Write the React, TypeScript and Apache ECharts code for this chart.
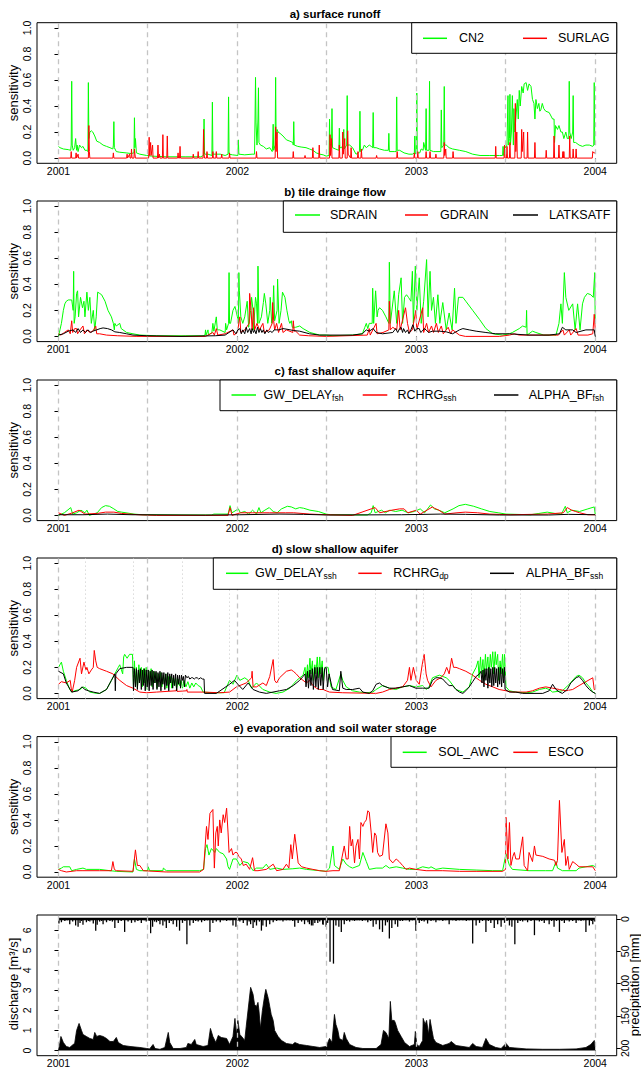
import React, { useEffect, useRef } from "react";
import * as echarts from "echarts";

const FONT = "'Liberation Sans', Arial, Helvetica, sans-serif";

// x axis: days since 2001-01-01
const yearTicks = [0, 365, 730, 1095];
const yearLabels = ["2001", "2002", "2003", "2004"];
const dashedDays = [0, 181, 365, 546, 730, 911, 1095];
const dottedDays = [55, 153, 252, 349, 448, 647, 745, 843, 942, 1040];
const sensTicks = [0, 0.2, 0.4, 0.6, 0.8, 1.0];
const dischargeTicks = [0, 1, 2, 3, 4, 5, 6];
const precipTicks = [0, 50, 100, 150, 200];

const panelTitles = [
  "a) surface runoff",
  "b) tile drainge flow",
  "c) fast shallow aquifer",
  "d) slow shallow aquifer",
  "e) evaporation and soil water storage",
];

// ---------- a) surface runoff ----------
const cn2 = [[0,0.09],[3,0.08],[10,0.07],[20,0.065],[25,0.06],[26,0.1],[27,0.59],[28,0.1],[30,0.06],[33,0.08],[35,0.15],[37,0.06],[38,0.1],[40,0.05],[43,0.1],[47,0.08],[50,0.09],[54,0.06],[58,0.06],[60,0.05],[61,0.58],[62,0.15],[64,0.2],[67,0.21],[70,0.2],[74,0.17],[78,0.13],[84,0.12],[91,0.1],[98,0.09],[105,0.08],[111,0.07],[112,0.1],[113,0.28],[114,0.08],[118,0.05],[125,0.045],[138,0.04],[148,0.035],[154,0.04],[155,0.31],[156,0.08],[157,0.15],[159,0.04],[166,0.03],[180,0.02],[190,0.015],[220,0.01],[260,0.01],[290,0.01],[296,0.02],[297,0.3],[298,0.03],[305,0.03],[313,0.02],[314,0.43],[315,0.03],[330,0.03],[340,0.02],[346,0.03],[347,0.47],[348,0.03],[355,0.025],[366,0.02],[367,0.14],[368,0.03],[380,0.025],[395,0.03],[400,0.03],[401,0.3],[402,0.62],[403,0.27],[405,0.1],[407,0.3],[408,0.54],[409,0.12],[412,0.1],[418,0.09],[424,0.07],[431,0.08],[436,0.05],[437,0.1],[438,0.26],[439,0.06],[442,0.1],[443,0.62],[444,0.15],[446,0.22],[448,0.2],[452,0.19],[458,0.17],[465,0.14],[472,0.13],[478,0.12],[479,0.1],[480,0.28],[481,0.1],[488,0.09],[495,0.085],[505,0.08],[512,0.07],[519,0.06],[526,0.04],[533,0.03],[540,0.025],[546,0.015],[552,0.02],[553,0.3],[554,0.1],[557,0.1],[558,0.38],[559,0.08],[565,0.07],[572,0.06],[573,0.23],[574,0.08],[578,0.08],[580,0.1],[582,0.22],[583,0.07],[588,0.1],[589,0.48],[590,0.1],[594,0.1],[600,0.08],[607,0.03],[612,0.04],[614,0.05],[615,0.36],[616,0.05],[620,0.06],[624,0.1],[628,0.08],[634,0.1],[638,0.09],[641,0.08],[642,0.35],[643,0.08],[648,0.08],[655,0.07],[665,0.06],[673,0.06],[674,0.19],[675,0.05],[685,0.05],[689,0.05],[690,0.47],[691,0.06],[696,0.06],[705,0.04],[715,0.03],[722,0.03],[726,0.04],[727,0.17],[728,0.03],[730,0.04],[731,0.5],[732,0.04],[737,0.04],[740,0.07],[744,0.06],[745,0.12],[749,0.06],[750,0.38],[751,0.06],[756,0.06],[757,0.59],[758,0.06],[765,0.05],[770,0.05],[780,0.05],[781,0.37],[782,0.08],[786,0.1],[787,0.55],[788,0.1],[791,0.1],[797,0.08],[804,0.07],[818,0.06],[831,0.05],[845,0.03],[860,0.02],[880,0.02],[900,0.02],[906,0.02],[907,0.09],[908,0.02],[910,0.1],[912,0.08],[915,0.1],[916,0.3],[917,0.48],[918,0.1],[920,0.15],[921,0.49],[922,0.1],[924,0.2],[926,0.48],[928,0.1],[929,0.38],[931,0.2],[933,0.3],[936,0.45],[938,0.3],[940,0.52],[942,0.4],[945,0.55],[948,0.5],[950,0.57],[954,0.58],[957,0.52],[960,0.57],[964,0.55],[967,0.45],[970,0.42],[972,0.3],[974,0.45],[977,0.38],[980,0.42],[982,0.36],[984,0.37],[987,0.42],[990,0.38],[994,0.36],[1001,0.35],[1008,0.3],[1011,0.3],[1012,0.12],[1014,0.25],[1018,0.22],[1021,0.25],[1025,0.2],[1028,0.2],[1031,0.15],[1035,0.2],[1038,0.15],[1041,0.15],[1042,0.59],[1043,0.2],[1046,0.15],[1049,0.2],[1050,0.48],[1051,0.12],[1055,0.12],[1062,0.1],[1069,0.09],[1076,0.1],[1083,0.1],[1090,0.09],[1092,0.1],[1093,0.58],[1094,0.1],[1095,0.1]];
const surlag = [[0,0],[25,0],[26,0.05],[27,0],[35,0],[36,0.04],[37,0],[40,0.03],[41,0],[61,0],[62,0.25],[63,0.05],[64,0],[111,0],[112,0.04],[113,0],[139,0],[140,0.03],[141,0],[145,0.03],[146,0],[148,0],[149,0.07],[150,0],[154,0],[155,0.07],[156,0.03],[157,0],[184,0],[185,0.16],[186,0.02],[188,0.12],[189,0.02],[192,0.1],[193,0],[202,0],[203,0.1],[204,0],[206,0.03],[207,0],[212,0],[213,0.18],[214,0],[221,0],[222,0.17],[223,0],[243,0],[244,0.04],[245,0],[247,0],[248,0.09],[249,0],[274,0],[275,0.03],[276,0],[284,0],[285,0.05],[286,0],[295,0],[296,0.22],[297,0.03],[298,0],[302,0],[303,0.05],[304,0],[314,0],[315,0.05],[316,0],[321,0],[322,0.05],[323,0],[332,0],[333,0.03],[334,0],[348,0],[349,0.04],[350,0],[403,0],[404,0.05],[405,0],[442,0],[443,0.24],[444,0.05],[446,0.2],[447,0],[478,0],[479,0.05],[480,0],[502,0],[503,0.02],[504,0],[518,0],[519,0.08],[520,0],[531,0],[532,0.1],[533,0],[553,0],[554,0.18],[555,0.02],[557,0.15],[558,0],[572,0],[573,0.1],[574,0],[579,0],[580,0.2],[581,0.03],[584,0.15],[585,0],[589,0],[590,0.21],[591,0.03],[596,0],[597,0.08],[598,0],[610,0],[611,0.05],[612,0],[617,0],[618,0.07],[619,0],[648,0],[649,0.02],[650,0],[690,0],[691,0.05],[692,0],[725,0],[726,0.04],[727,0],[732,0],[733,0.05],[734,0],[749,0],[750,0.05],[751,0],[757,0],[758,0.05],[759,0],[769,0],[770,0.03],[771,0],[786,0],[787,0.12],[788,0.02],[790,0.07],[791,0],[804,0],[805,0.05],[806,0],[891,0],[892,0.09],[893,0],[909,0],[910,0.1],[911,0],[914,0],[915,0.09],[916,0],[920,0],[921,0.12],[922,0],[931,0],[932,0.42],[933,0.05],[935,0.2],[936,0],[944,0],[945,0.22],[946,0.05],[949,0.2],[950,0],[956,0],[957,0.2],[958,0],[971,0],[972,0.12],[973,0],[994,0],[995,0.06],[996,0],[1010,0],[1011,0.17],[1012,0],[1020,0],[1021,0.1],[1022,0],[1028,0],[1029,0.05],[1030,0],[1031,0.05],[1032,0],[1042,0],[1043,0.17],[1044,0],[1049,0],[1050,0.07],[1051,0],[1055,0],[1056,0.07],[1057,0],[1089,0],[1090,0.05],[1092,0.04],[1095,0.04]];

// ---------- b) tile drainage flow ----------
const sdrain = [[0,0],[3,0.05],[6,0.1],[10,0.2],[13,0.25],[16,0.27],[20,0.28],[27,0.28],[30,0.2],[31,0.5],[32,0.1],[34,0.15],[37,0.33],[39,0.35],[41,0.15],[45,0.3],[49,0.22],[52,0.27],[54,0.15],[58,0.34],[61,0.2],[64,0.3],[67,0.1],[71,0.2],[74,0.05],[77,0.15],[80,0.34],[84,0.33],[88,0.32],[95,0.27],[101,0.2],[108,0.15],[112,0.1],[114,0.05],[115,0.1],[118,0.08],[125,0.1],[128,0.06],[139,0.03],[152,0.02],[166,0.01],[200,0.005],[260,0.005],[295,0.005],[299,0.01],[300,0.05],[301,0.01],[305,0.05],[306,0.01],[313,0.03],[315,0.1],[317,0.04],[322,0.15],[324,0.05],[329,0.05],[340,0.03],[341,0.1],[343,0.05],[347,0.1],[348,0.49],[349,0.1],[351,0.1],[356,0.2],[360,0.23],[362,0.2],[365,0.15],[367,0.1],[368,0.49],[369,0.35],[372,0.15],[376,0.1],[380,0.15],[385,0.27],[388,0.07],[392,0.2],[394,0.3],[397,0.2],[398,0.05],[402,0.3],[404,0.25],[406,0.1],[407,0.54],[409,0.1],[414,0.15],[418,0.26],[420,0.33],[423,0.25],[427,0.1],[431,0.2],[432,0.3],[435,0.1],[437,0.15],[439,0.39],[441,0.12],[446,0.2],[447,0.44],[450,0.1],[454,0.2],[457,0.34],[462,0.3],[466,0.2],[470,0.12],[472,0.1],[475,0.12],[477,0.07],[484,0.07],[492,0.08],[499,0.06],[513,0.03],[533,0.01],[546,0.01],[560,0.005],[600,0.01],[620,0.02],[625,0.07],[628,0.1],[631,0.06],[634,0.1],[640,0.1],[641,0.37],[643,0.1],[647,0.35],[650,0.15],[652,0.2],[655,0.22],[661,0.2],[668,0.15],[674,0.1],[675,0.57],[677,0.1],[685,0.35],[690,0.1],[694,0.32],[699,0.45],[702,0.1],[706,0.3],[710,0.32],[714,0.3],[719,0.27],[722,0.5],[724,0.1],[728,0.54],[731,0.2],[736,0.45],[740,0.1],[745,0.27],[751,0.59],[754,0.15],[758,0.5],[761,0.2],[765,0.3],[769,0.1],[774,0.32],[778,0.1],[784,0.26],[791,0.05],[797,0.18],[803,0.05],[808,0.37],[811,0.1],[816,0.3],[825,0.3],[831,0.27],[845,0.2],[859,0.13],[872,0.06],[886,0.02],[906,0.01],[920,0.02],[926,0.03],[940,0.06],[947,0.08],[954,0.07],[955,0.2],[956,0.01],[967,0.04],[974,0.03],[990,0.01],[1015,0.01],[1021,0.1],[1025,0.25],[1028,0.1],[1032,0.49],[1035,0.3],[1041,0.2],[1049,0.25],[1054,0.05],[1059,0.25],[1064,0.05],[1069,0.25],[1073,0.3],[1079,0.33],[1086,0.32],[1091,0.3],[1094,0.49],[1095,0.1]];
const gdrain = [[0,0.02],[5,0.01],[12,0.03],[20,0.05],[24,0.02],[27,0.12],[29,0.03],[33,0.06],[37,0.06],[39,0.02],[44,0.05],[50,0.08],[53,0.02],[58,0.05],[64,0.03],[70,0.04],[76,0.08],[78,0.02],[84,0.02],[98,0.01],[120,0.005],[160,0],[300,0],[315,0.03],[318,0.01],[322,0.06],[325,0.01],[340,0.02],[356,0.05],[358,0.01],[365,0.03],[370,0.15],[372,0.03],[380,0.05],[389,0.1],[390,0.33],[393,0.2],[395,0.05],[398,0.22],[400,0.05],[405,0.1],[410,0.05],[417,0.1],[420,0.03],[430,0.05],[436,0.1],[437,0.26],[439,0.12],[441,0.05],[445,0.1],[449,0.03],[455,0.1],[458,0.03],[465,0.05],[478,0.03],[479,0.12],[481,0.04],[484,0.04],[492,0.01],[510,0.005],[546,0],[630,0.01],[634,0.06],[636,0.01],[648,0.1],[650,0.02],[662,0.03],[674,0.05],[675,0.27],[677,0.05],[682,0.07],[690,0.05],[694,0.2],[697,0.05],[708,0.22],[712,0.1],[716,0.03],[722,0.05],[729,0.2],[731,0.05],[743,0.22],[745,0.03],[751,0.1],[755,0.03],[761,0.08],[765,0.03],[771,0.1],[775,0.03],[781,0.08],[785,0.02],[795,0.07],[800,0.02],[804,0.05],[818,0.01],[830,0],[900,0],[920,0.01],[930,0.02],[940,0.01],[1020,0.01],[1029,0.05],[1032,0.01],[1042,0.05],[1045,0.01],[1056,0.06],[1060,0.01],[1080,0.01],[1090,0.02],[1093,0.17],[1095,0.05]];
const latksatf = [[0,0.01],[10,0.02],[20,0.04],[30,0.05],[35,0.03],[40,0.06],[45,0.03],[50,0.05],[55,0.03],[60,0.05],[66,0.03],[70,0.04],[78,0.05],[85,0.06],[91,0.065],[100,0.06],[108,0.05],[115,0.035],[125,0.03],[139,0.02],[152,0.01],[180,0.005],[250,0],[320,0.005],[340,0.01],[356,0.05],[362,0.02],[366,0.05],[370,0.06],[373,0.02],[376,0.05],[380,0.02],[383,0.07],[386,0.03],[390,0.06],[393,0.02],[395,0.06],[398,0.03],[400,0.05],[403,0.02],[406,0.07],[409,0.03],[412,0.06],[415,0.03],[418,0.05],[421,0.02],[425,0.05],[428,0.03],[432,0.04],[436,0.03],[440,0.05],[450,0.05],[458,0.06],[466,0.055],[480,0.045],[492,0.04],[512,0.02],[533,0.01],[546,0.01],[600,0.01],[620,0.02],[628,0.05],[634,0.04],[642,0.06],[648,0.03],[661,0.02],[682,0.03],[688,0.06],[692,0.03],[696,0.06],[699,0.07],[702,0.03],[704,0.06],[708,0.03],[712,0.05],[715,0.02],[718,0.04],[723,0.09],[727,0.04],[731,0.06],[736,0.06],[739,0.03],[742,0.04],[746,0.06],[750,0.05],[755,0.03],[763,0.04],[777,0.04],[791,0.035],[804,0.02],[818,0.05],[825,0.06],[838,0.05],[852,0.04],[872,0.03],[892,0.02],[920,0.02],[960,0.01],[1001,0.01],[1022,0.02],[1028,0.07],[1035,0.05],[1049,0.05],[1056,0.03],[1076,0.05],[1093,0.05],[1095,0]];

// ---------- c) fast shallow aquifer ----------
const gwDelayFsh = [[0,0],[12,0.02],[25,0.06],[29,0.01],[37,0.02],[46,0.04],[54,0.02],[58,0.04],[63,0],[79,0.02],[88,0.06],[96,0.075],[104,0.07],[113,0.05],[121,0.03],[129,0.025],[154,0.01],[171,0.005],[250,0.003],[313,0.003],[317,0.01],[346,0.01],[350,0.075],[354,0.02],[367,0.05],[371,0.02],[380,0.03],[388,0.01],[396,0.04],[404,0.01],[409,0.06],[413,0.02],[421,0.04],[430,0.06],[438,0.03],[446,0.02],[455,0.05],[467,0.07],[475,0.065],[484,0.05],[492,0.06],[500,0.055],[513,0.04],[530,0.03],[546,0.01],[555,0.005],[630,0.003],[638,0.02],[642,0.075],[646,0.02],[659,0.04],[667,0.02],[676,0.04],[688,0.03],[701,0.04],[713,0.02],[726,0.03],[738,0.05],[747,0.02],[759,0.08],[767,0.05],[776,0.04],[788,0.02],[805,0.05],[817,0.075],[830,0.085],[847,0.07],[863,0.05],[880,0.03],[897,0.02],[913,0.01],[963,0.005],[980,0.015],[997,0.025],[1013,0.015],[1026,0.01],[1034,0.07],[1038,0.02],[1047,0.04],[1063,0.03],[1080,0.05],[1093,0.065],[1095,0.01]];
const rchrgSsh = [[0,0.02],[12,0],[29,0.02],[42,0.04],[54,0.01],[79,0.015],[96,0.025],[113,0.025],[129,0.015],[163,0.005],[200,0],[346,0],[350,0.06],[354,0],[371,0.02],[396,0.02],[430,0.02],[463,0.02],[480,0.02],[513,0.01],[546,0.005],[600,0],[638,0.05],[646,0.06],[655,0.02],[680,0.04],[696,0.05],[705,0.05],[713,0.02],[730,0.04],[738,0.01],[763,0.065],[767,0.055],[776,0.04],[788,0.01],[813,0.02],[830,0.025],[855,0.02],[880,0.01],[922,0.005],[997,0.01],[1030,0.02],[1038,0.06],[1047,0.04],[1055,0.03],[1063,0.02],[1080,0.005],[1095,0.005]];
const alphaBfFsh = [[0,0.005],[50,0.005],[100,0.01],[150,0.005],[300,0.002],[370,0.005],[450,0.01],[500,0.008],[550,0.003],[700,0.005],[780,0.01],[830,0.008],[900,0.003],[1000,0.003],[1040,0.008],[1095,0.005]];

// ---------- d) slow shallow aquifer ----------
const gwDelaySsh = [[0,0.2],[3,0.22],[6,0.24],[10,0.17],[16,0.1],[23,0.03],[27,0.01],[33,0.02],[44,0.03],[50,0.05],[56,0.04],[64,0.01],[78,0],[84,0],[98,0.03],[108,0.1],[115,0.15],[122,0.2],[125,0.22],[131,0.15],[133,0.28],[135,0.3],[140,0.27],[145,0.3],[151,0.3],[152,0.3],[153,0.05],[155,0.25],[157,0.08],[159,0.2],[161,0.04],[164,0.22],[166,0.1],[169,0.2],[171,0.05],[174,0.19],[176,0.08],[179,0.2],[181,0.03],[184,0.18],[186,0.1],[189,0.19],[191,0.05],[194,0.17],[196,0.08],[199,0.16],[201,0.04],[204,0.15],[206,0.09],[209,0.16],[211,0.05],[214,0.14],[216,0.08],[219,0.15],[221,0.04],[224,0.13],[226,0.07],[229,0.13],[231,0.04],[234,0.12],[236,0.06],[239,0.12],[241,0.03],[244,0.11],[247,0.06],[250,0.1],[253,0.04],[256,0.1],[260,0.05],[264,0.09],[268,0.04],[272,0.08],[276,0.05],[280,0.08],[285,0.06],[290,0.05],[295,0.01],[315,0.005],[338,0.005],[349,0.1],[356,0.07],[364,0.14],[370,0.1],[380,0.12],[387,0.1],[394,0.04],[404,0.08],[417,0.03],[431,0.01],[444,0],[458,0.01],[472,0.04],[486,0.1],[499,0.14],[503,0.2],[505,0.1],[508,0.22],[510,0.12],[513,0.27],[515,0.15],[518,0.25],[520,0.1],[523,0.22],[525,0.15],[528,0.28],[530,0.12],[533,0.28],[535,0.15],[538,0.25],[540,0.1],[543,0.2],[546,0.2],[550,0.2],[556,0.05],[566,0.03],[576,0.15],[580,0.1],[587,0.05],[600,0.02],[614,0.01],[628,0.005],[641,0.01],[648,0.03],[661,0.06],[675,0.04],[688,0.03],[702,0.05],[716,0.06],[729,0.05],[743,0.06],[750,0.03],[756,0.05],[763,0.12],[770,0.13],[777,0.14],[784,0.13],[791,0.12],[797,0.1],[811,0.03],[825,0.01],[838,0.05],[845,0.15],[852,0.2],[856,0.25],[858,0.12],[861,0.28],[863,0.15],[866,0.26],[868,0.1],[871,0.3],[873,0.18],[876,0.28],[878,0.12],[881,0.3],[883,0.2],[886,0.32],[888,0.15],[891,0.32],[893,0.22],[896,0.3],[898,0.1],[901,0.25],[903,0.15],[906,0.3],[908,0.12],[910,0.3],[913,0.05],[920,0.02],[933,0.01],[954,0.005],[967,0.01],[981,0.03],[994,0.04],[1001,0.03],[1008,0.01],[1028,0.02],[1042,0.07],[1056,0.13],[1062,0.14],[1069,0.12],[1076,0.08],[1083,0.05],[1090,0.01],[1095,0]];
const rchrgDp = [[0,0.07],[6,0.09],[16,0.08],[24,0.1],[26,0.04],[28,0.01],[33,0.1],[37,0.2],[44,0.27],[47,0.15],[52,0.24],[56,0.18],[58,0.2],[62,0.15],[67,0.18],[71,0.2],[73,0.33],[76,0.25],[79,0.2],[84,0.19],[98,0.17],[111,0.15],[125,0.1],[139,0.06],[152,0.04],[166,0.01],[180,0.005],[200,0.01],[240,0.02],[241,0.04],[242,0.015],[261,0.02],[262,0.03],[263,0.01],[295,0.01],[329,0.005],[349,0.01],[363,0.05],[383,0.08],[394,0.12],[395,0.17],[397,0.05],[404,0.05],[417,0.08],[424,0.06],[431,0.13],[438,0.26],[441,0.1],[445,0.08],[451,0.12],[465,0.17],[475,0.18],[479,0.17],[485,0.15],[492,0.12],[506,0.08],[512,0.1],[519,0.06],[526,0.04],[533,0.03],[540,0.03],[546,0.02],[553,0.01],[580,0.005],[648,0],[661,0.01],[675,0.03],[688,0.04],[702,0.05],[712,0.1],[716,0.2],[719,0.1],[724,0.2],[730,0.1],[736,0.07],[742,0.22],[746,0.3],[750,0.15],[753,0.1],[760,0.05],[770,0.1],[780,0.12],[787,0.15],[792,0.2],[797,0.15],[802,0.27],[806,0.2],[811,0.2],[818,0.19],[831,0.17],[845,0.14],[859,0.1],[872,0.07],[886,0.05],[899,0.03],[913,0.02],[926,0.01],[954,0.01],[967,0.02],[981,0.04],[994,0.05],[1008,0.04],[1022,0.03],[1035,0.02],[1049,0.03],[1062,0.06],[1076,0.09],[1090,0.12],[1093,0.03],[1095,0.03]];
const alphaBfSsh = [[0,0.17],[10,0.15],[16,0.08],[27,0.01],[40,0.02],[48,0.05],[54,0.03],[61,0.02],[71,0.01],[84,0],[98,0.03],[108,0.1],[115,0.15],[116,0.02],[117,0.15],[125,0.19],[139,0.2],[150,0.2],[152,0.2],[153,0.02],[155,0.19],[157,0.05],[159,0.19],[161,0.03],[163,0.18],[165,0.08],[167,0.19],[169,0.03],[171,0.18],[173,0.06],[175,0.19],[177,0.02],[179,0.18],[181,0.05],[183,0.18],[185,0.02],[187,0.17],[189,0.06],[191,0.18],[193,0.03],[195,0.17],[197,0.08],[199,0.17],[201,0.03],[203,0.16],[205,0.05],[207,0.17],[209,0.02],[211,0.16],[213,0.07],[215,0.16],[217,0.03],[219,0.15],[221,0.06],[223,0.16],[225,0.02],[227,0.15],[229,0.08],[231,0.15],[233,0.04],[235,0.14],[237,0.06],[239,0.15],[241,0.02],[243,0.14],[245,0.07],[247,0.14],[249,0.04],[251,0.14],[253,0.1],[255,0.13],[257,0.05],[259,0.14],[262,0.12],[265,0.13],[268,0.11],[271,0.12],[274,0.12],[277,0.11],[280,0.12],[283,0.12],[286,0.11],[290,0.12],[294,0.11],[297,0.11],[298,0],[322,0],[349,0.07],[359,0.1],[366,0.07],[376,0.03],[387,0.08],[397,0.03],[410,0.01],[424,0],[451,0.02],[465,0.03],[479,0.06],[492,0.1],[499,0.13],[503,0.15],[505,0.05],[508,0.17],[510,0.04],[513,0.18],[515,0.06],[518,0.19],[520,0.03],[523,0.2],[525,0.05],[528,0.2],[530,0.03],[533,0.2],[535,0.06],[538,0.2],[540,0.03],[543,0.19],[546,0.2],[549,0.05],[552,0.15],[559,0.03],[573,0.02],[576,0.17],[580,0.04],[587,0.03],[600,0.03],[614,0.04],[621,0.01],[634,0],[641,0.02],[648,0.07],[655,0.08],[661,0.06],[675,0.04],[688,0.04],[702,0.05],[716,0.06],[729,0.04],[743,0.04],[756,0.04],[763,0.1],[770,0.12],[777,0.12],[784,0.11],[791,0.08],[797,0.06],[804,0.06],[811,0.03],[818,0.01],[825,0],[831,0.02],[838,0.05],[845,0.09],[852,0.13],[859,0.15],[862,0.17],[864,0.08],[866,0.18],[868,0.05],[870,0.19],[872,0.1],[874,0.19],[876,0.04],[878,0.2],[880,0.08],[882,0.19],[884,0.05],[886,0.2],[888,0.06],[890,0.2],[892,0.08],[894,0.19],[896,0.05],[898,0.2],[900,0.07],[902,0.2],[904,0.05],[906,0.19],[908,0.08],[910,0.2],[911,0.03],[920,0.01],[933,0.01],[947,0],[988,0],[1001,0.02],[1008,0.07],[1015,0.03],[1022,0.01],[1028,0],[1038,0.03],[1045,0.08],[1056,0.12],[1062,0.13],[1069,0.1],[1076,0.06],[1083,0.03],[1090,0.01],[1095,0]];

// ---------- e) evaporation and soil water storage ----------
const solAwc = [[0,0.02],[6,0.03],[10,0.04],[23,0.04],[27,0.01],[37,0.02],[50,0.03],[57,0.02],[84,0.02],[105,0.01],[118,0.005],[152,0],[155,0.1],[159,0.02],[166,0.01],[182,0.01],[183,0.04],[186,0.01],[213,0.01],[214,0.03],[220,0.01],[288,0.01],[296,0.02],[300,0.18],[303,0.21],[307,0.13],[312,0.18],[319,0.15],[322,0.18],[329,0.15],[336,0.14],[343,0.1],[346,0.04],[349,0.02],[356,0.1],[363,0.1],[370,0.05],[377,0.08],[387,0.07],[397,0.01],[404,0.03],[417,0.03],[424,0.06],[431,0.02],[445,0.03],[458,0.02],[478,0.025],[492,0.03],[506,0.02],[533,0.01],[546,0.005],[553,0.03],[560,0.2],[563,0.05],[573,0.02],[580,0.1],[587,0.06],[594,0.04],[600,0.03],[607,0.04],[614,0.05],[621,0.15],[628,0.08],[634,0.02],[648,0.03],[661,0.03],[668,0.05],[675,0.03],[689,0.04],[702,0.03],[716,0.02],[729,0.02],[736,0.03],[743,0.04],[756,0.03],[760,0.04],[770,0.02],[784,0.03],[818,0.02],[852,0.015],[886,0.01],[906,0.01],[913,0.14],[920,0.05],[926,0.02],[960,0.01],[994,0.01],[1008,0.01],[1015,0.08],[1018,0.03],[1028,0.01],[1056,0.01],[1062,0.03],[1076,0.04],[1090,0.05],[1095,0.04]];
const esco = [[0,0.02],[6,0.01],[16,0],[37,0.01],[50,0.01],[84,0.01],[108,0.01],[111,0.08],[114,0.02],[118,0.01],[152,0.005],[157,0.17],[161,0.05],[166,0.05],[173,0.01],[220,0],[288,0],[296,0.02],[302,0.35],[305,0.25],[309,0.45],[315,0.48],[318,0.03],[321,0.3],[324,0.35],[326,0.2],[329,0.4],[332,0.3],[336,0.44],[339,0.38],[343,0.49],[346,0.3],[348,0.15],[353,0.18],[356,0.13],[360,0.15],[364,0.15],[368,0.12],[373,0.1],[377,0.05],[383,0.06],[390,0.02],[396,0.11],[400,0.01],[407,0.01],[424,0.02],[438,0.06],[445,0.01],[458,0.02],[465,0.06],[470,0.03],[474,0.21],[477,0.1],[482,0.29],[485,0.2],[489,0.07],[496,0.04],[506,0.03],[519,0.02],[533,0.01],[546,0.005],[560,0.01],[573,0.01],[583,0.2],[587,0.1],[591,0.1],[594,0.35],[597,0.2],[600,0.25],[604,0.07],[607,0.2],[611,0.25],[614,0.1],[617,0.38],[621,0.35],[624,0.38],[628,0.4],[631,0.47],[634,0.46],[638,0.3],[641,0.15],[645,0.3],[648,0.28],[651,0.15],[655,0.12],[661,0.13],[668,0.37],[672,0.3],[675,0.1],[682,0.07],[689,0.1],[695,0.08],[702,0.05],[709,0.02],[716,0.03],[729,0.02],[750,0.01],[784,0.01],[818,0.005],[852,0.005],[906,0.005],[912,0.02],[913,0.42],[917,0.1],[920,0.38],[923,0.05],[927,0.12],[930,0.15],[933,0.1],[940,0.1],[947,0.27],[950,0.05],[957,0.01],[960,0.15],[967,0.08],[971,0.2],[974,0.13],[988,0.12],[1001,0.1],[1012,0.09],[1015,0.05],[1018,0.09],[1022,0.55],[1027,0.15],[1032,0.25],[1035,0.05],[1039,0.12],[1042,0.02],[1049,0.08],[1056,0.06],[1062,0.04],[1076,0.04],[1090,0.04],[1095,0.01]];

// ---------- f) discharge [m3/s] and precipitation [mm] ----------
const discharge = [[0,0],[3,0.4],[5,0.7],[10,0.4],[16,0.2],[23,0.15],[30,0.3],[33,0.35],[37,1.0],[42,1.35],[47,1.0],[50,0.8],[57,0.7],[64,0.6],[71,0.55],[74,0.9],[78,0.7],[84,0.75],[91,0.7],[98,0.6],[105,0.45],[112,0.45],[118,0.65],[122,0.4],[132,0.25],[146,0.2],[166,0.15],[180,0.1],[186,0.08],[193,0.3],[197,0.1],[207,0.06],[217,0.15],[224,0.9],[227,0.4],[234,0.1],[248,0.1],[261,0.15],[264,0.35],[271,0.3],[278,0.55],[281,0.3],[295,0.2],[305,0.25],[310,1.1],[315,0.7],[321,0.4],[326,0.75],[332,0.65],[343,0.6],[349,0.3],[356,0.7],[360,1.6],[363,0.8],[366,1.5],[370,0.8],[377,0.6],[380,0.5],[383,1.2],[389,2.5],[392,3.15],[397,2.8],[400,2.3],[404,2.2],[407,2.4],[409,2.0],[412,1.1],[416,2.0],[421,2.8],[423,3.05],[428,2.6],[431,2.2],[434,1.8],[438,1.5],[441,1.0],[448,0.7],[455,0.5],[465,0.35],[478,0.3],[482,0.4],[492,0.3],[506,0.25],[519,0.2],[533,0.15],[546,0.2],[553,0.6],[558,0.4],[563,1.8],[566,1.3],[570,1.0],[573,0.6],[580,0.5],[583,0.9],[587,0.6],[594,0.3],[607,0.15],[621,0.1],[648,0.1],[658,0.3],[663,1.0],[668,0.9],[674,0.6],[677,2.45],[680,1.5],[685,1.5],[687,1.4],[692,1.0],[699,0.7],[706,0.4],[716,0.2],[726,0.3],[728,0.95],[731,0.3],[736,0.2],[743,0.5],[744,1.6],[748,1.3],[751,1.5],[755,0.8],[758,1.55],[762,1.0],[765,0.6],[770,0.4],[784,0.25],[797,0.35],[801,0.45],[811,0.25],[838,0.15],[845,0.35],[852,0.2],[865,0.15],[872,0.6],[879,0.3],[892,0.15],[903,0.1],[913,0.35],[920,0.15],[954,0.08],[988,0.06],[1022,0.06],[1056,0.08],[1076,0.15],[1086,0.3],[1093,0.5],[1095,0.2]];
const precipitation = [[1,7],[6,5],[13,3],[18,2],[23,8],[29,4],[35,10],[40,12],[44,6],[47,3],[50,9],[57,5],[61,3],[64,4],[68,2],[71,7],[76,18],[79,9],[84,4],[88,3],[91,8],[95,2],[98,5],[105,3],[110,4],[115,14],[122,6],[128,3],[135,20],[142,4],[149,6],[156,5],[162,3],[169,6],[175,2],[179,4],[185,3],[188,22],[192,12],[196,4],[200,5],[204,3],[207,8],[213,10],[217,4],[220,14],[226,6],[230,3],[234,8],[241,12],[247,18],[253,6],[258,3],[262,39],[268,10],[275,6],[280,3],[285,4],[292,5],[298,3],[304,2],[309,20],[315,6],[322,4],[330,5],[336,2],[343,3],[350,2],[356,10],[362,12],[366,3],[370,4],[377,6],[385,10],[389,4],[392,8],[397,14],[400,5],[404,10],[410,4],[414,18],[417,10],[424,12],[431,8],[438,5],[445,3],[452,2],[458,4],[465,2],[472,2],[478,3],[482,12],[489,6],[496,4],[502,8],[509,5],[512,8],[516,10],[519,10],[523,6],[529,6],[533,4],[539,8],[540,9],[546,12],[549,6],[554,66],[561,69],[566,10],[572,12],[577,20],[583,8],[588,3],[594,4],[600,2],[604,3],[609,2],[614,2],[620,3],[626,2],[631,5],[637,3],[642,12],[648,8],[655,16],[661,20],[667,10],[671,5],[675,30],[680,14],[687,8],[692,12],[697,3],[702,3],[709,2],[716,4],[722,2],[729,18],[736,6],[741,3],[746,4],[753,7],[760,3],[765,2],[770,5],[777,2],[784,3],[790,2],[797,8],[804,2],[811,3],[818,2],[825,2],[832,3],[838,2],[845,38],[852,10],[859,6],[865,3],[872,20],[877,3],[882,6],[889,14],[896,8],[903,12],[910,6],[915,3],[920,10],[925,12],[931,39],[937,6],[942,3],[947,4],[952,2],[957,5],[964,3],[971,25],[976,2],[981,4],[986,3],[991,6],[996,2],[1001,8],[1006,3],[1011,12],[1016,3],[1022,20],[1027,3],[1032,6],[1037,2],[1042,4],[1049,3],[1056,6],[1061,2],[1066,3],[1071,2],[1076,20],[1083,10],[1087,3],[1090,8],[1094,4]];
const precipBase = [[0,0],[1095,0]];

const GREEN = "#00ff00";
const RED = "#ff0000";
const BLACK = "#000000";

const TOPS = [22.7, 201, 380, 558, 736.6, 915];
const GRID_LEFT = 37;
const GRID_W = 579.7;
const GRID_H = 140.6;

function line(name: string, data: number[][], color: string, gi: number, yi: number, z = 3) {
  return {
    type: "line",
    name,
    data,
    xAxisIndex: gi,
    yAxisIndex: yi,
    showSymbol: false,
    symbol: "none",
    silent: true,
    z,
    lineStyle: { color, width: 1 },
    itemStyle: { color },
  };
}

function txt(x: number, y: number, text: string, extra: any = {}, rot = 0) {
  return {
    type: "text",
    x,
    y,
    rotation: rot,
    z: 100,
    silent: true,
    style: {
      text,
      fill: "#000",
      fontFamily: FONT,
      fontSize: 12.5,
      textAlign: "left",
      textVerticalAlign: "middle",
      align: "left",
      verticalAlign: "middle",
      ...extra,
    },
  };
}

type LegItem = { color: string; l1: number; l2: number; tx: number; main: string; sub?: string };

function legend(x1: number, y1: number, x2: number, y2: number, ly: number, items: LegItem[]) {
  const els: any[] = [
    {
      type: "rect",
      z: 99,
      silent: true,
      shape: { x: x1, y: y1, width: x2 - x1, height: y2 - y1 },
      style: { fill: "#fff", stroke: "#000", lineWidth: 1 },
    },
  ];
  items.forEach((it) => {
    els.push({
      type: "line",
      z: 100,
      silent: true,
      shape: { x1: it.l1, y1: ly, x2: it.l2, y2: ly },
      style: { stroke: it.color, lineWidth: 1.5 },
    });
    const text = it.sub ? `{m|${it.main}}{s|${it.sub}}` : `{m|${it.main}}`;
    els.push(
      txt(it.tx, ly, text, {
        rich: {
          m: { fontSize: 12.5, fontFamily: FONT, fill: "#000" },
          s: { fontSize: 8.5, fontFamily: FONT, fill: "#000", verticalAlign: "bottom", padding: [0, 0, -1, 0] },
        },
      })
    );
  });
  return els;
}

export default function App() {
  const ref = useRef<HTMLDivElement>(null);

  useEffect(() => {
    document.body.style.margin = "0";
    const chart = echarts.init(ref.current!, undefined, { renderer: "svg" });

    const grids = TOPS.map((t, i) => ({
      left: GRID_LEFT,
      top: t,
      width: GRID_W,
      height: i === 5 ? 140.7 : GRID_H,
      show: true,
      borderColor: "#000",
      borderWidth: 1,
      backgroundColor: "transparent",
    }));

    const xAxes = TOPS.map((_, i) => ({
      type: "value",
      gridIndex: i,
      min: -43.8,
      max: 1138.8,
      axisLine: { show: false },
      splitLine: { show: false },
      axisTick: { show: true, customValues: yearTicks, length: 4, lineStyle: { color: "#000", width: 1 } },
      axisLabel: {
        customValues: yearTicks,
        formatter: (v: number) => yearLabels[yearTicks.indexOf(Math.round(v))] ?? "",
        fontSize: 10.5,
        fontFamily: FONT,
        color: "#000",
        margin: 2,
      },
    }));

    const sensAxis = (i: number) => ({
      type: "value",
      gridIndex: i,
      min: -0.04,
      max: 1.04,
      axisLine: { show: false },
      splitLine: { show: false },
      axisTick: { show: true, customValues: sensTicks, length: 4, lineStyle: { color: "#000", width: 1 } },
      axisLabel: {
        customValues: sensTicks,
        formatter: (v: number) => v.toFixed(1),
        rotate: 90,
        fontSize: 10.5,
        fontFamily: FONT,
        color: "#000",
        margin: 5,
      },
    });

    const yAxes: any[] = [0, 1, 2, 3, 4].map(sensAxis);
    yAxes.push({
      type: "value",
      gridIndex: 5,
      min: -0.26,
      max: 6.76,
      axisLine: { show: false },
      splitLine: { show: false },
      axisTick: { show: true, customValues: dischargeTicks, length: 4, lineStyle: { color: "#000", width: 1 } },
      axisLabel: {
        customValues: dischargeTicks,
        formatter: (v: number) => String(Math.round(v)),
        rotate: 90,
        fontSize: 10.5,
        fontFamily: FONT,
        color: "#000",
        margin: 5,
      },
    });
    yAxes.push({
      type: "value",
      gridIndex: 5,
      position: "right",
      inverse: true,
      min: -6.2,
      max: 211.4,
      axisLine: { show: false },
      splitLine: { show: false },
      axisTick: { show: true, customValues: precipTicks, length: 4, lineStyle: { color: "#000", width: 1 } },
      axisLabel: {
        customValues: precipTicks,
        formatter: (v: number) => String(Math.round(v)),
        rotate: 90,
        fontSize: 10.5,
        fontFamily: FONT,
        color: "#000",
        margin: 3,
      },
    });

    const guides = TOPS.map((_, gi) => ({
      type: "line",
      xAxisIndex: gi,
      yAxisIndex: gi < 5 ? gi : 5,
      data: [],
      silent: true,
      z: 1,
      markLine: {
        silent: true,
        symbol: ["none", "none"],
        label: { show: false },
        animation: false,
        lineStyle: { color: "#c4c4c4", type: [5, 4], width: 1.3 },
        data: [
          ...dashedDays.map((d) => ({ xAxis: d })),
          ...(gi === 3
            ? dottedDays.map((d) => ({ xAxis: d, lineStyle: { color: "#c8c8c8", type: [1, 3], width: 1 } }))
            : []),
        ],
      },
    }));

    const series: any[] = [
      ...guides,
      line("CN2", cn2, GREEN, 0, 0),
      line("SURLAG", surlag, RED, 0, 0, 4),
      line("SDRAIN", sdrain, GREEN, 1, 1),
      line("GDRAIN", gdrain, RED, 1, 1, 4),
      line("LATKSATF", latksatf, BLACK, 1, 1, 5),
      line("GW_DELAY_fsh", gwDelayFsh, GREEN, 2, 2),
      line("RCHRG_ssh", rchrgSsh, RED, 2, 2, 4),
      line("ALPHA_BF_fsh", alphaBfFsh, BLACK, 2, 2, 5),
      line("GW_DELAY_ssh", gwDelaySsh, GREEN, 3, 3),
      line("RCHRG_dp", rchrgDp, RED, 3, 3, 4),
      line("ALPHA_BF_ssh", alphaBfSsh, BLACK, 3, 3, 5),
      line("SOL_AWC", solAwc, GREEN, 4, 4),
      line("ESCO", esco, RED, 4, 4, 4),
      {
        ...line("discharge", discharge, BLACK, 5, 5),
        areaStyle: { color: "#000", opacity: 1 },
        lineStyle: { color: "#000", width: 0.8 },
      },
      {
        type: "bar",
        name: "precipitation",
        data: precipitation,
        xAxisIndex: 5,
        yAxisIndex: 6,
        barWidth: 1.3,
        silent: true,
        z: 3,
        itemStyle: { color: "#000" },
      },
      { ...line("precipBase", precipBase, BLACK, 5, 6), lineStyle: { color: "#000", width: 2.5 } },
    ];

    const graphics: any[] = [];
    panelTitles.forEach((t, i) => {
      graphics.push(txt(335, TOPS[i] - 9, t, { fontSize: 11.5, fontWeight: "bold", textAlign: "center", align: "center" }));
      graphics.push(
        txt(13.3, TOPS[i] + 70.3, "sensitivity", { fontSize: 13, textAlign: "center", align: "center" }, Math.PI / 2)
      );
    });
    graphics.push(txt(13.3, 984, "discharge [m³/s]", { fontSize: 13, textAlign: "center", align: "center" }, Math.PI / 2));
    graphics.push(txt(634.5, 985, "precipitation [mm]", { fontSize: 13, textAlign: "center", align: "center" }, Math.PI / 2));

    graphics.push(
      ...legend(411.7, 22.7, 616.7, 53.3, 38.3, [
        { color: GREEN, l1: 423, l2: 447, tx: 459, main: "CN2" },
        { color: RED, l1: 523, l2: 547, tx: 558, main: "SURLAG" },
      ])
    );
    graphics.push(
      ...legend(283.3, 201, 616.7, 232.3, 215, [
        { color: GREEN, l1: 295, l2: 320, tx: 330, main: "SDRAIN" },
        { color: RED, l1: 405, l2: 428, tx: 440, main: "GDRAIN" },
        { color: BLACK, l1: 513, l2: 538, tx: 549, main: "LATKSATF" },
      ])
    );
    graphics.push(
      ...legend(220, 380, 616.7, 410.7, 395, [
        { color: GREEN, l1: 231.5, l2: 256, tx: 263.5, main: "GW_DELAY", sub: "fsh" },
        { color: RED, l1: 362.7, l2: 387.3, tx: 397.5, main: "RCHRG", sub: "ssh" },
        { color: BLACK, l1: 494, l2: 518.4, tx: 528.7, main: "ALPHA_BF", sub: "fsh" },
      ])
    );
    graphics.push(
      ...legend(213.3, 558, 616.7, 589.3, 573.3, [
        { color: GREEN, l1: 226, l2: 248.3, tx: 255, main: "GW_DELAY", sub: "ssh" },
        { color: RED, l1: 358.3, l2: 381.7, tx: 393.3, main: "RCHRG", sub: "dp" },
        { color: BLACK, l1: 490, l2: 514, tx: 526, main: "ALPHA_BF", sub: "ssh" },
      ])
    );
    graphics.push(
      ...legend(391, 736.6, 616.7, 767.3, 752.3, [
        { color: GREEN, l1: 402.7, l2: 426.7, tx: 438.3, main: "SOL_AWC" },
        { color: RED, l1: 513.3, l2: 537.7, tx: 548.3, main: "ESCO" },
      ])
    );

    chart.setOption({
      animation: false,
      backgroundColor: "#fff",
      textStyle: { fontFamily: FONT },
      grid: grids,
      xAxis: xAxes,
      yAxis: yAxes,
      series,
      graphic: { elements: graphics },
    });

    return () => chart.dispose();
  }, []);

  return (
    <div
      ref={ref}
      style={{ position: "absolute", left: 0, top: 0, width: 641, height: 1069, background: "#fff" }}
    />
  );
}
